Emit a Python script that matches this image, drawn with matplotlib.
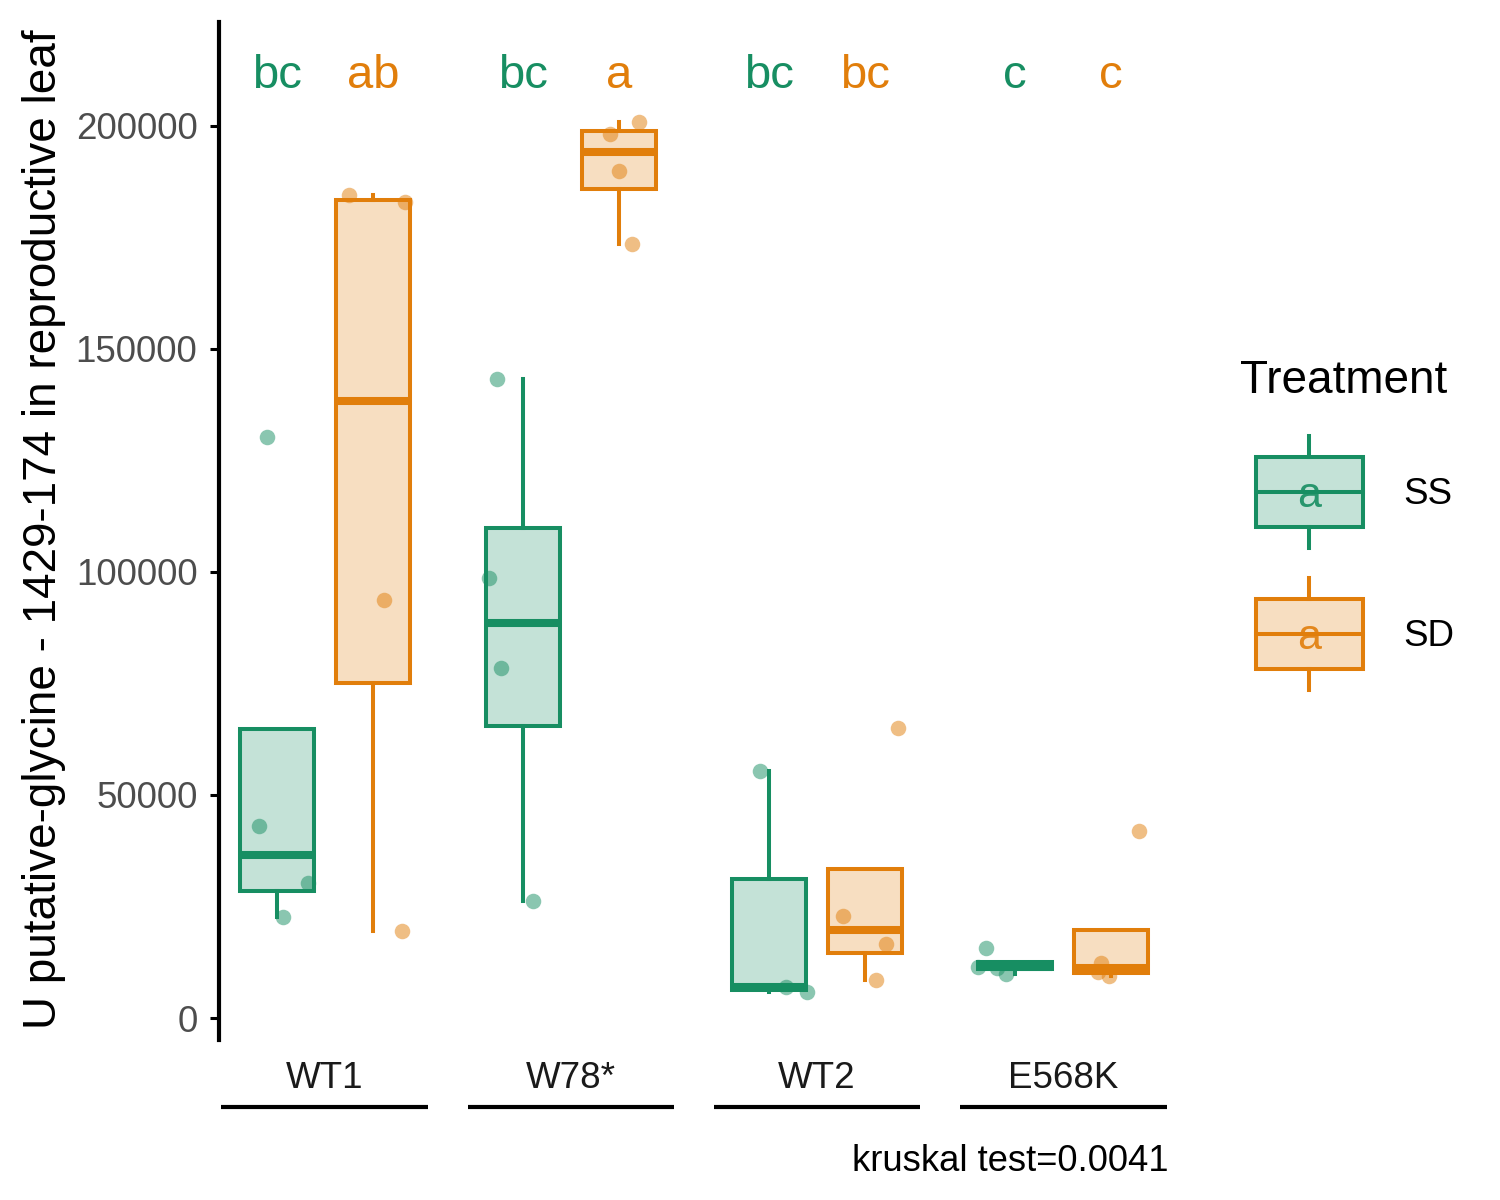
import matplotlib
matplotlib.use("Agg")
import matplotlib.pyplot as plt
from matplotlib.patches import Rectangle
from matplotlib.transforms import blended_transform_factory

plt.rcParams['font.family'] = ['Liberation Sans', 'DejaVu Sans']

# data
genotypes = ['WT1', 'W78*', 'WT2', 'E568K']
treatments = ['SS', 'SD']

ss_values = [
    [130300, 43000, 30300, 22600],
    [143300, 98650, 78500, 26200],
    [55400, 6950, 5830],
    [15700, 11400, 11300, 9900],
]
sd_values = [
    [184500, 183000, 93700, 19500],
    [200900, 198200, 189900, 173500],
    [65000, 22900, 16600, 8500],
    [41900, 12300, 10300, 9400],
]
# horizontal jitter of each point (group units)
ss_jitter = [
    [-0.04, -0.073, 0.126, 0.024],
    [-0.104, -0.136, -0.09, 0.04],
    [-0.037, 0.069, 0.154],
    [-0.118, -0.15, -0.073, -0.037],
]
sd_jitter = [
    [-0.095, 0.132, 0.047, 0.12],
    [0.083, -0.035, 0.0, 0.055],
    [0.134, -0.09, 0.085, 0.045],
    [0.114, -0.04, -0.053, -0.008],
]
letters_ss = ['bc', 'bc', 'bc', 'c']
letters_sd = ['ab', 'a', 'bc', 'c']
letter_y = 211300
yticks = [0, 50000, 100000, 150000, 200000]

colors = {'SS': '#178E62', 'SD': '#E17E0B'}
dodge = {'SS': -0.195, 'SD': 0.195}

fig = plt.figure(figsize=(15, 12), dpi=100)
ax = fig.add_axes([219 / 1500, 1 - 1040 / 1200, 950 / 1500, 1018 / 1200])

for trt, vals, jit, letters in [('SS', ss_values, ss_jitter, letters_ss),
                                ('SD', sd_values, sd_jitter, letters_sd)]:
    col = colors[trt]
    pos = [i + dodge[trt] for i in range(len(genotypes))]
    ax.boxplot(vals, positions=pos, widths=0.30, patch_artist=True,
               showfliers=False, whis=1.5, manage_ticks=False,
               boxprops=dict(facecolor=(*matplotlib.colors.to_rgb(col), 0.25),
                             edgecolor=col, linewidth=2.9),
               medianprops=dict(color=col, linewidth=5.8, solid_capstyle='butt'),
               whiskerprops=dict(color=col, linewidth=2.9),
               capprops=dict(linewidth=0))
    for i, (v, j) in enumerate(zip(vals, jit)):
        ax.scatter([pos[i] + d for d in j], v, s=125, color=col, alpha=0.5,
                   linewidths=0, zorder=5)
        ax.text(pos[i], letter_y, letters[i], color=col, fontsize=34,
                ha='center', va='center')

ax.set_xlim(-0.43, 3.43)
ax.set_ylim(-4930, 223300)
ax.set_xticks([])
ax.set_yticks(yticks)
ax.set_yticklabels([str(t) for t in yticks])
for s in ['top', 'right', 'bottom']:
    ax.spines[s].set_visible(False)
ax.spines['left'].set_linewidth(3)
ax.spines['left'].set_color('black')
ax.tick_params(axis='y', length=6.5, width=2.2, labelsize=26.5,
               labelcolor='#4D4D4D', pad=9)

# facet-like labels under each genotype
trans = blended_transform_factory(ax.transData, ax.transAxes)
for i, g in enumerate(genotypes):
    ax.text(i, -0.0374, g, transform=trans, ha='center', va='center',
            fontsize=26.5, color='#1A1A1A', clip_on=False)
    ax.plot([i - 0.42, i + 0.42], [-0.0658, -0.0658], transform=trans,
            color='black', linewidth=3, clip_on=False, solid_capstyle='butt')

ax.text(1.0, -0.119, 'kruskal test=0.0041', transform=ax.transAxes,
        ha='right', va='center', fontsize=26.2, color='black')

fig.text(44 / 1500, 1 - 529 / 1200,
         'U putative-glycine - 1429-174 in reproductive leaf',
         rotation=90, ha='center', va='center', fontsize=33, color='black')

# legend drawn by hand in pixel space
lax = fig.add_axes([0, 0, 1, 1])
lax.set_xlim(0, 1500)
lax.set_ylim(1200, 0)
lax.axis('off')
lax.text(1240, 381, 'Treatment', fontsize=33, ha='left', va='center')
for trt, top in [('SS', 457), ('SD', 599)]:
    col = colors[trt]
    lax.add_patch(Rectangle((1256, top), 107, 70,
                            facecolor=(*matplotlib.colors.to_rgb(col), 0.25),
                            edgecolor=col, linewidth=2.9))
    lax.plot([1309, 1309], [top - 21, top], color=col, linewidth=2.9)
    lax.plot([1309, 1309], [top + 70, top + 91], color=col, linewidth=2.9)
    lax.plot([1256, 1363], [top + 35, top + 35], color=col, linewidth=2.9)
    lax.text(1309, top + 39, 'a', color=col, fontsize=31, ha='center',
             va='center', alpha=0.9)
    lax.text(1403, top + 37, trt, fontsize=26.5, ha='left', va='center')

fig.savefig('out.png', dpi=100)
